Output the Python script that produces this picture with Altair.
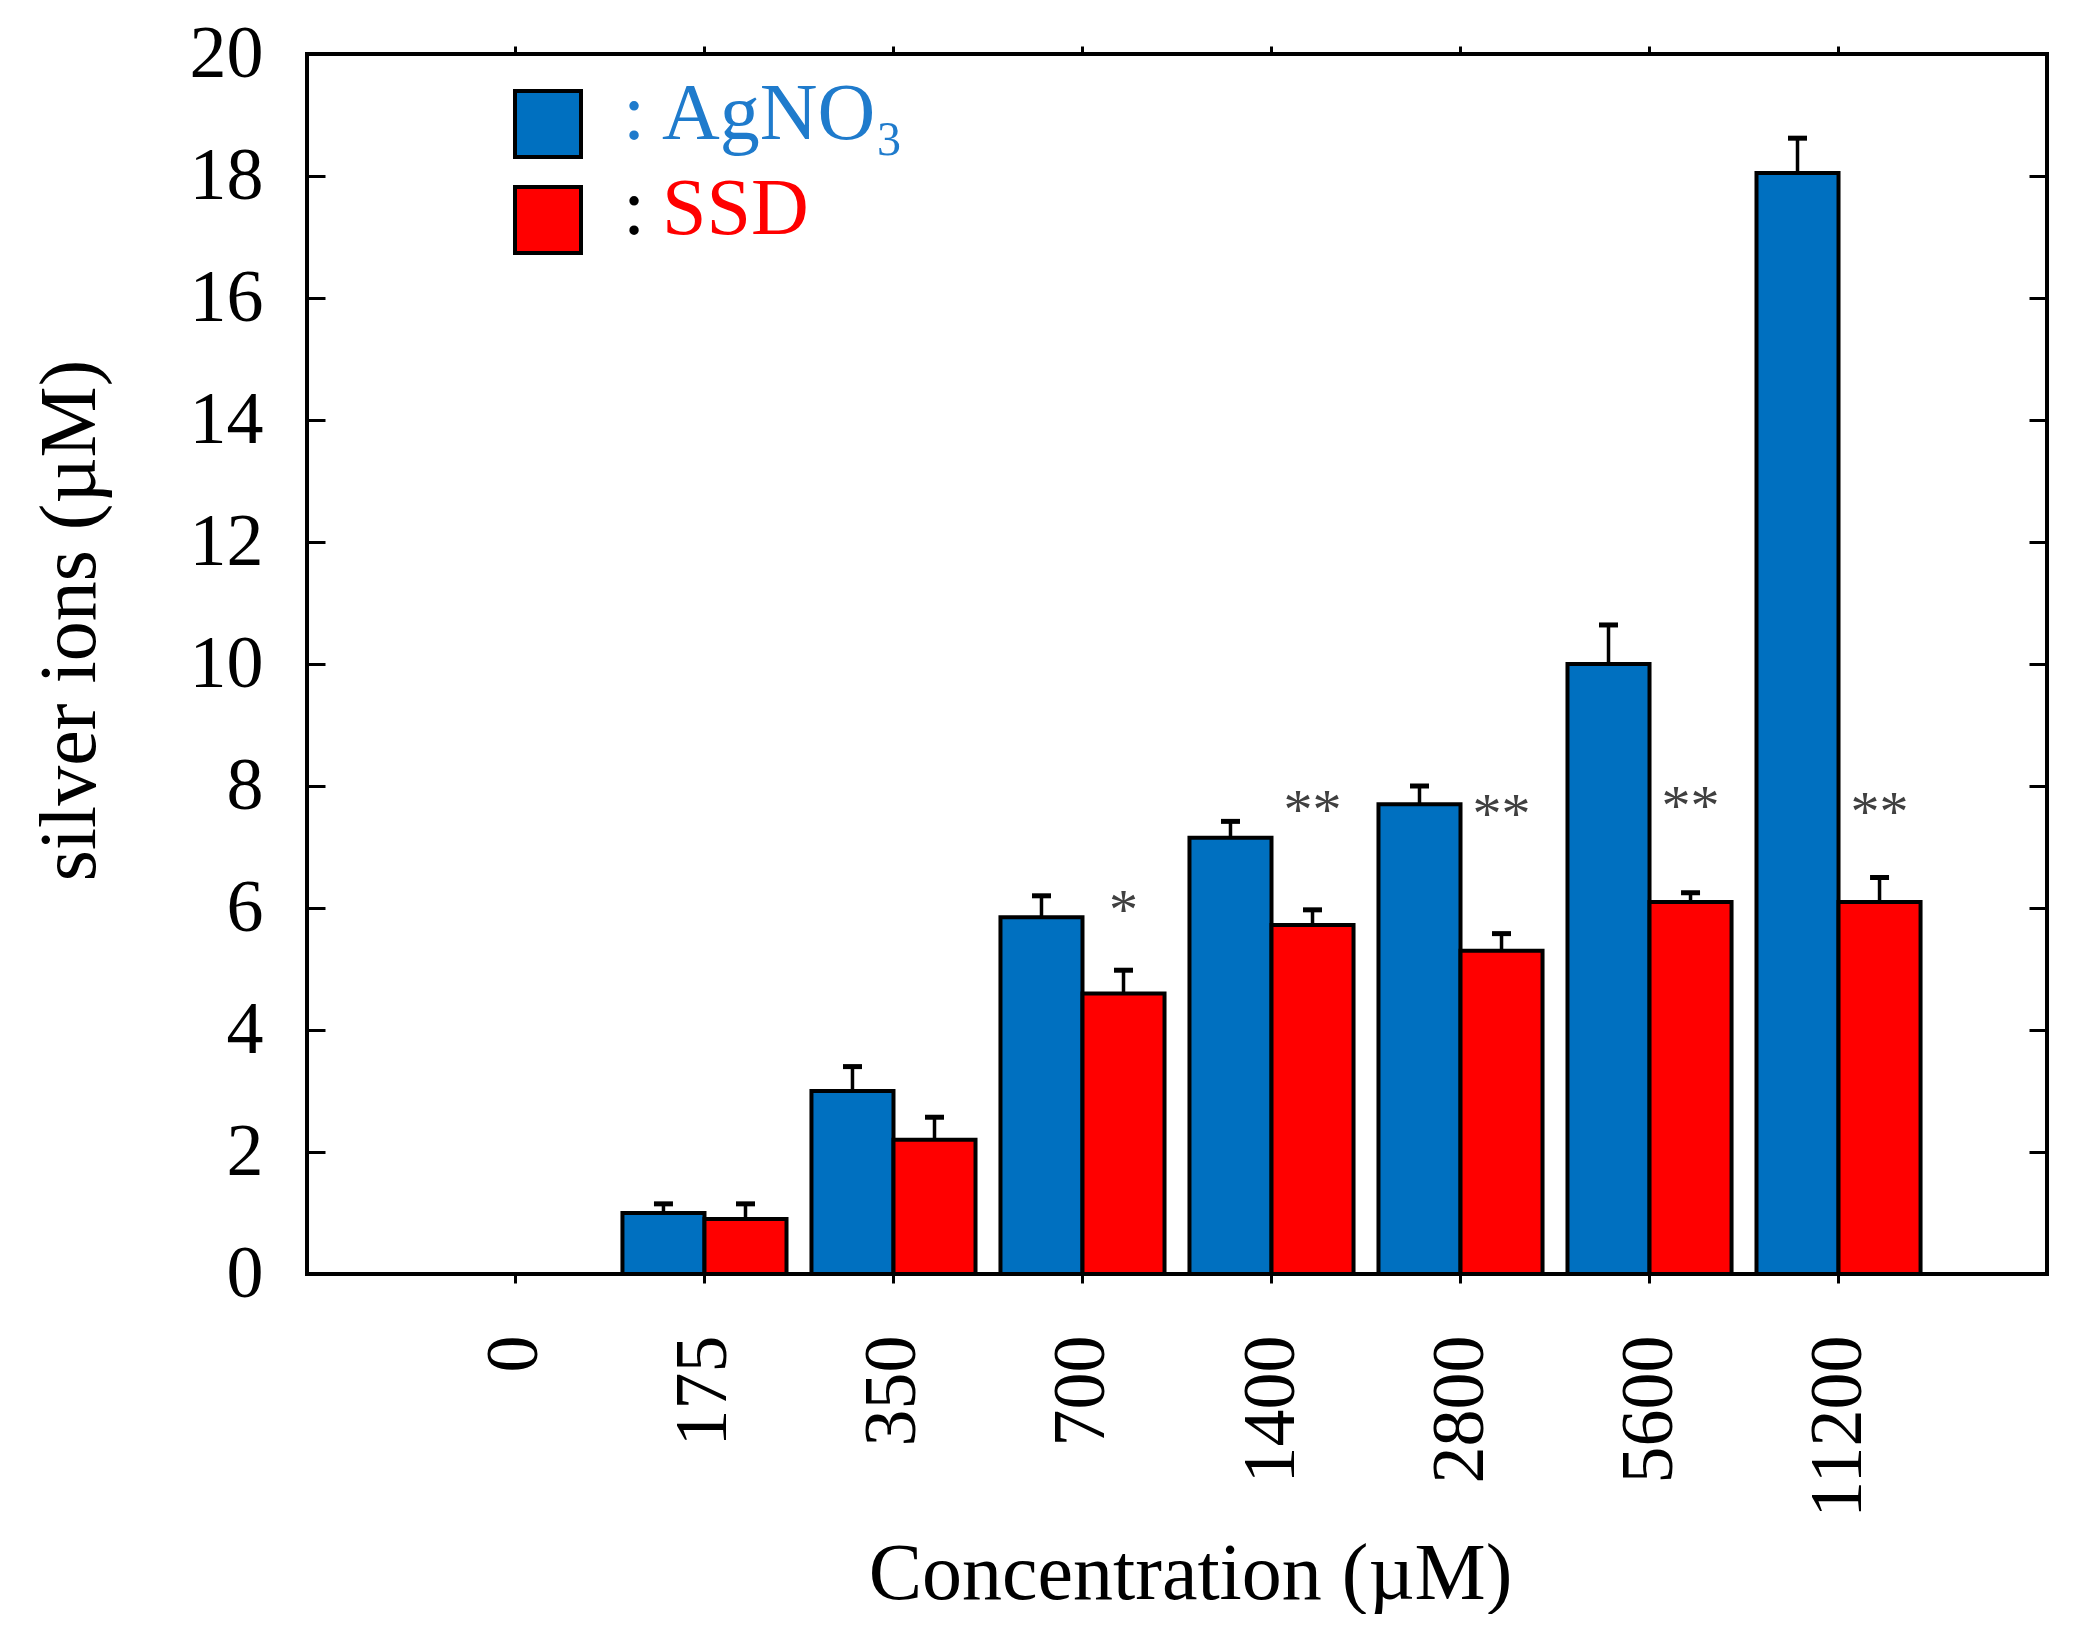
import altair as alt
import pandas as pd

# ---- data ----
concentrations = ["0", "175", "350", "700", "1400", "2800", "5600", "11200"]
agno3_mean = [0.0, 1.0, 3.0, 5.85, 7.15, 7.7, 10.0, 18.05]
agno3_err = [0.0, 0.15, 0.4, 0.35, 0.27, 0.3, 0.64, 0.57]
ssd_mean = [0.0, 0.9, 2.2, 4.6, 5.72, 5.3, 6.1, 6.1]
ssd_err = [0.0, 0.25, 0.37, 0.38, 0.25, 0.28, 0.15, 0.4]
sig_marks = ["", "", "", "*", "**", "**", "**", "**"]
sig_height = [0, 0, 0, 6.1, 7.73, 7.68, 7.8, 7.7]
y_tick_values = [0, 2, 4, 6, 8, 10, 12, 14, 16, 18, 20]
series_names = ["AgNO3", "SSD"]
series_colors = ["#0070C0", "#FF0000"]

rows = []
for i, c in enumerate(concentrations):
    for s, m, e in (("AgNO3", agno3_mean[i], agno3_err[i]), ("SSD", ssd_mean[i], ssd_err[i])):
        if m > 0:
            rows.append({"conc": c, "series": s, "mean": m, "hi": m + e})
df = pd.DataFrame(rows)

sig_df = pd.DataFrame([
    {"conc": c, "series": "SSD", "mark": sig_marks[i], "h": sig_height[i]}
    for i, c in enumerate(concentrations) if sig_marks[i]
])

FONT = "Liberation Serif"
W, H = 1740, 1220

xscale = alt.Scale(domain=concentrations, paddingInner=0.132, paddingOuter=0.669)
yscale = alt.Scale(domain=[0, 20], nice=False)
xoff = alt.XOffset("series:N", scale=alt.Scale(domain=series_names, paddingInner=0, paddingOuter=0))

bottom_axis = alt.Axis(
    orient="bottom", title="Concentration (µM)", labelAngle=-90, labelLimit=500,
    labelFont=FONT, labelFontSize=74, labelColor="black", labelPadding=52,
    tickSize=9, tickWidth=3, tickColor="black", domain=False, grid=False,
    titleFont=FONT, titleFontSize=80, titleFontWeight="normal", titleColor="black",
    titlePadding=61, titleX=883,
)
top_axis = alt.Axis(
    orient="top", title=None, labels=False, tickSize=8, tickWidth=3,
    tickColor="black", domain=False, grid=False,
)
left_axis = alt.Axis(
    orient="left", title="silver ions (µM)", values=y_tick_values, offset=-18,
    tickSize=18, tickWidth=3, tickColor="black", domain=False, grid=False,
    labelFont=FONT, labelFontSize=74, labelColor="black", labelPadding=44,
    titleFont=FONT, titleFontSize=80, titleFontWeight="normal", titleColor="black",
    titlePadding=78, titleY=566,
)
right_axis = alt.Axis(
    orient="right", title=None, values=y_tick_values, offset=-18, labels=False,
    tickSize=18, tickWidth=3, tickColor="black", domain=False, grid=False,
)

color = alt.Color("series:N", scale=alt.Scale(domain=series_names, range=series_colors), legend=None)

bars = alt.Chart(df).mark_bar(stroke="black", strokeWidth=4, opacity=1).encode(
    x=alt.X("conc:N", sort=concentrations, scale=xscale, axis=bottom_axis),
    xOffset=xoff,
    y=alt.Y("mean:Q", scale=yscale, axis=left_axis),
    color=color,
)

err = alt.Chart(df).mark_rule(color="black", strokeWidth=3.5).encode(
    x=alt.X("conc:N", sort=concentrations, scale=xscale, axis=top_axis),
    xOffset=xoff,
    y=alt.Y("mean:Q", scale=yscale, axis=right_axis),
    y2="hi:Q",
)

caps = alt.Chart(df).mark_tick(color="black", thickness=5, size=19, opacity=1).encode(
    x=alt.X("conc:N", sort=concentrations, scale=xscale, axis=None),
    xOffset=xoff,
    y=alt.Y("hi:Q", scale=yscale, axis=None),
)

stars = alt.Chart(sig_df).mark_text(
    font=FONT, fontSize=58, color="#404040", baseline="alphabetic", dy=27
).encode(
    x=alt.X("conc:N", sort=concentrations, scale=xscale, axis=None),
    xOffset=xoff,
    y=alt.Y("h:Q", scale=yscale, axis=None),
    text="mark:N",
)

one = pd.DataFrame({"k": [0]})
leg_blue = alt.Chart(one).mark_square(size=4356, fill=series_colors[0], stroke="black",
                                      strokeWidth=4, opacity=1).encode(
    x=alt.value(241), y=alt.value(70))
leg_red = alt.Chart(one).mark_square(size=4356, fill=series_colors[1], stroke="black",
                                     strokeWidth=4, opacity=1).encode(
    x=alt.value(241), y=alt.value(166))
txt_kw = dict(font=FONT, fontSize=80, align="left", baseline="alphabetic")
leg_c1 = alt.Chart(one).mark_text(text=":", color="#1f7bcc", **txt_kw).encode(
    x=alt.value(316), y=alt.value(85))
leg_t1 = alt.Chart(one).mark_text(text="AgNO₃", color="#1f7bcc", **txt_kw).encode(
    x=alt.value(355), y=alt.value(85))
leg_c2 = alt.Chart(one).mark_text(text=":", color="black", **txt_kw).encode(
    x=alt.value(316), y=alt.value(180))
leg_t2 = alt.Chart(one).mark_text(text="SSD", color="#FF0000", **txt_kw).encode(
    x=alt.value(355), y=alt.value(180))

chart = alt.layer(
    bars, err, caps, stars, leg_blue, leg_red, leg_c1, leg_t1, leg_c2, leg_t2
).resolve_axis(x="independent", y="independent").properties(
    width=W, height=H,
    padding={"left": 22, "top": 9, "right": 20, "bottom": 0},
    background="white",
).configure_view(stroke="black", strokeWidth=4)

chart.save("out.html", embed_options={"renderer": "svg", "actions": False})
